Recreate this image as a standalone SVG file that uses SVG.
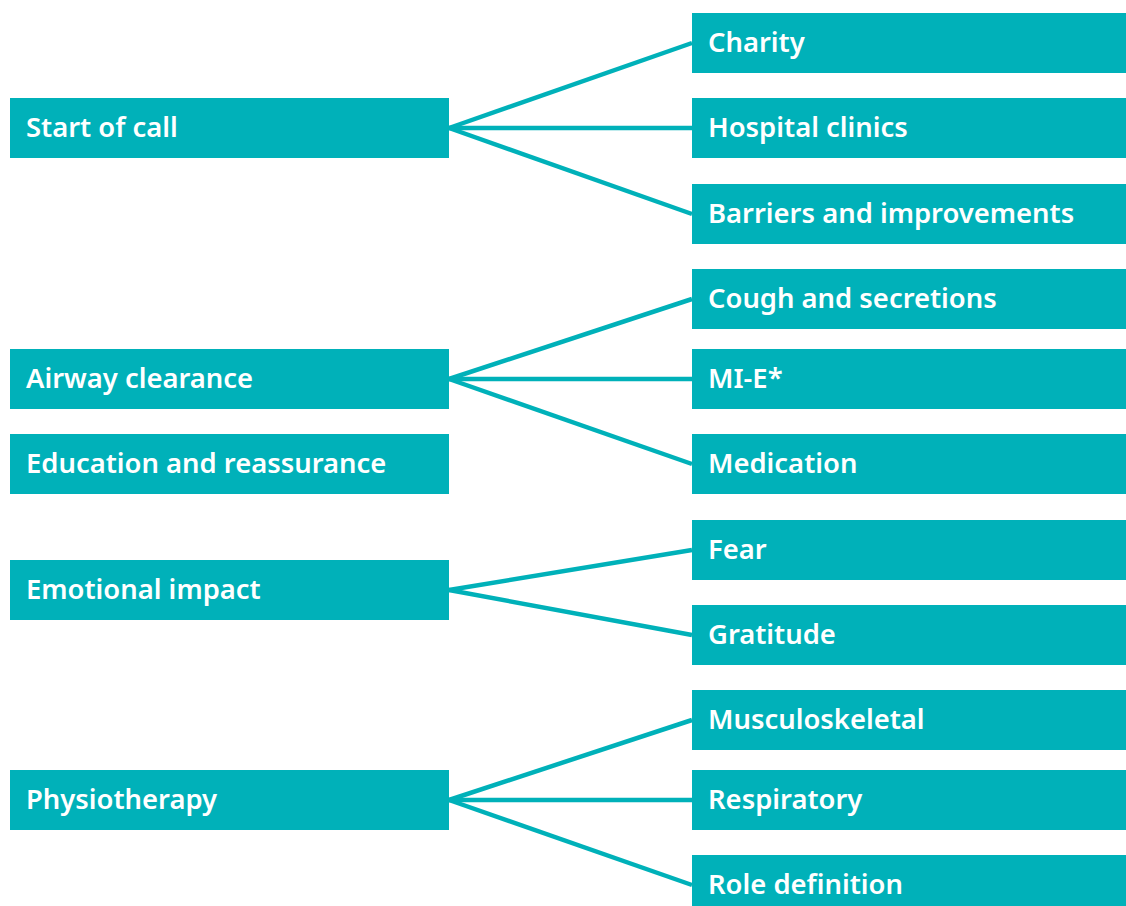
<svg xmlns="http://www.w3.org/2000/svg" width="1126" height="906" viewBox="0 0 1126 906">
<style>
.box{fill:#00b1b9}
.t{font-family:"Noto Sans",sans-serif;font-weight:600;font-size:27.4px;fill:#fff;font-variant-ligatures:none}
.c{stroke:#00b1b9;stroke-width:4.5;fill:none}
</style>
<rect width="1126" height="906" fill="#fff"/>
<g id="connectors">
<line class="c" x1="449" y1="128" x2="692" y2="43"/>
<line class="c" x1="449" y1="128" x2="692" y2="128"/>
<line class="c" x1="449" y1="128" x2="692" y2="214"/>
<line class="c" x1="449" y1="379" x2="692" y2="299"/>
<line class="c" x1="449" y1="379" x2="692" y2="379"/>
<line class="c" x1="449" y1="379" x2="692" y2="464"/>
<line class="c" x1="449" y1="590" x2="692" y2="550"/>
<line class="c" x1="449" y1="590" x2="692" y2="635"/>
<line class="c" x1="449" y1="800" x2="692" y2="720"/>
<line class="c" x1="449" y1="800" x2="692" y2="800"/>
<line class="c" x1="449" y1="800" x2="692" y2="885"/>
</g>
<g id="start-of-call"><rect class="box" x="10" y="98" width="439" height="60"/><text class="t" x="26" y="136.5">Start of call</text></g>
<g id="airway-clearance"><rect class="box" x="10" y="349" width="439" height="60"/><text class="t" x="26" y="387.5">Airway clearance</text></g>
<g id="education"><rect class="box" x="10" y="434" width="439" height="60"/><text class="t" x="26" y="472.5">Education and reassurance</text></g>
<g id="emotional-impact"><rect class="box" x="10" y="560" width="439" height="60"/><text class="t" x="26" y="598.5">Emotional impact</text></g>
<g id="physiotherapy"><rect class="box" x="10" y="770" width="439" height="60"/><text class="t" x="26" y="808.5">Physiotherapy</text></g>
<g id="charity"><rect class="box" x="692" y="13" width="434" height="60"/><text class="t" x="708" y="51.5">Charity</text></g>
<g id="hospital-clinics"><rect class="box" x="692" y="98" width="434" height="60"/><text class="t" x="708" y="136.5">Hospital clinics</text></g>
<g id="barriers"><rect class="box" x="692" y="184" width="434" height="60"/><text class="t" x="708" y="222.5">Barriers and improvements</text></g>
<g id="cough"><rect class="box" x="692" y="269" width="434" height="60"/><text class="t" x="708" y="307.5">Cough and secretions</text></g>
<g id="mie"><rect class="box" x="692" y="349" width="434" height="60"/><text class="t" x="708" y="387.5">MI-E*</text></g>
<g id="medication"><rect class="box" x="692" y="434" width="434" height="60"/><text class="t" x="708" y="472.5">Medication</text></g>
<g id="fear"><rect class="box" x="692" y="520" width="434" height="60"/><text class="t" x="708" y="558.5">Fear</text></g>
<g id="gratitude"><rect class="box" x="692" y="605" width="434" height="60"/><text class="t" x="708" y="643.5">Gratitude</text></g>
<g id="musculoskeletal"><rect class="box" x="692" y="690" width="434" height="60"/><text class="t" x="708" y="728.5">Musculoskeletal</text></g>
<g id="respiratory"><rect class="box" x="692" y="770" width="434" height="60"/><text class="t" x="708" y="808.5">Respiratory</text></g>
<g id="role-definition"><rect class="box" x="692" y="855" width="434" height="60"/><text class="t" x="708" y="893.5">Role definition</text></g>
</svg>
